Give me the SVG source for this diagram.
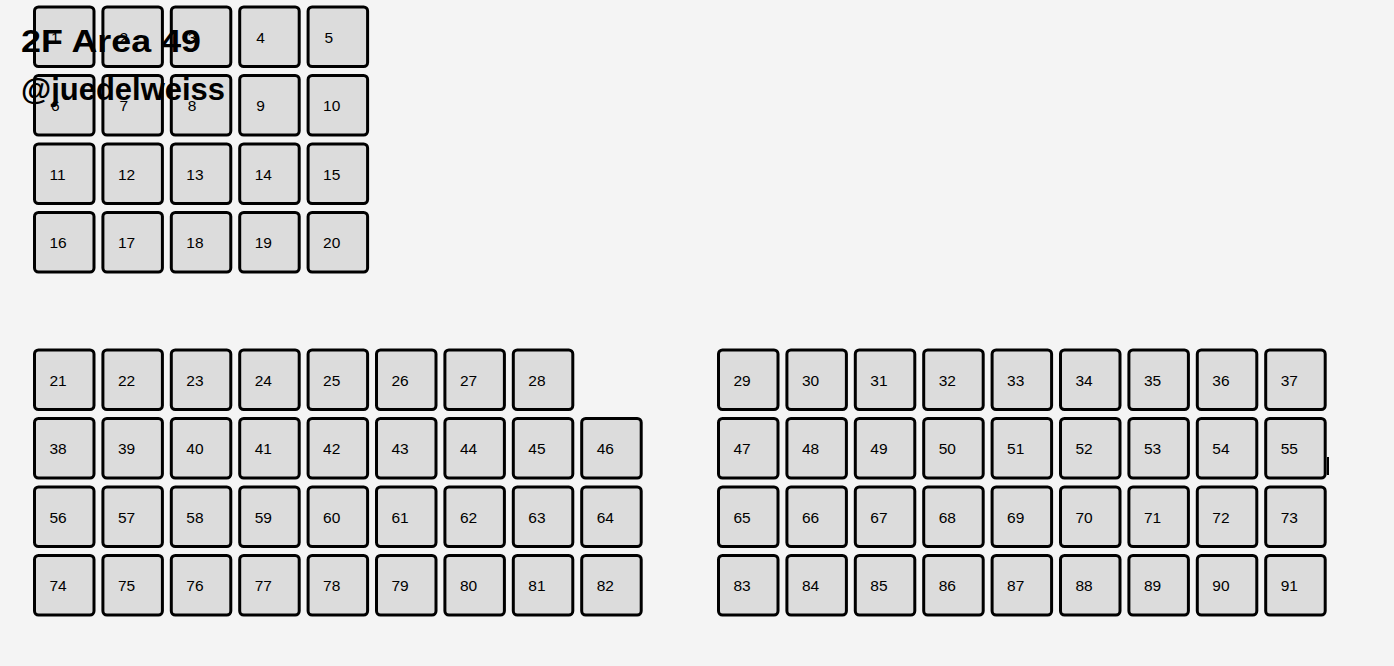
<svg xmlns="http://www.w3.org/2000/svg" width="1394" height="666" viewBox="0 0 1394 666">
<style>
.b{fill:#dcdcdc;stroke:#000;stroke-width:3}
.t{font-family:"Liberation Sans",Arial,sans-serif;font-size:15.5px;fill:#000}
.h{font-family:"Liberation Sans",Arial,sans-serif;font-weight:bold;font-size:32px;fill:#000}
</style>
<defs>
<rect id="box" class="b" x="1.5" y="1.5" width="59.5" height="59.5" rx="4"/>
</defs>
<rect width="1394" height="666" fill="#f4f4f4"/>
<g id="nodes">
<g id="n1" transform="translate(33,5.5)"><use href="#box"/><text class="t" x="18" y="37">1</text></g>
<g id="n2" transform="translate(101.4,5.5)"><use href="#box"/><text class="t" x="18" y="37">2</text></g>
<g id="n3" transform="translate(169.8,5.5)"><use href="#box"/><text class="t" x="18" y="37">3</text></g>
<g id="n4" transform="translate(238.2,5.5)"><use href="#box"/><text class="t" x="18" y="37">4</text></g>
<g id="n5" transform="translate(306.6,5.5)"><use href="#box"/><text class="t" x="18" y="37">5</text></g>
<g id="n6" transform="translate(33,74)"><use href="#box"/><text class="t" x="18" y="37">6</text></g>
<g id="n7" transform="translate(101.4,74)"><use href="#box"/><text class="t" x="18" y="37">7</text></g>
<g id="n8" transform="translate(169.8,74)"><use href="#box"/><text class="t" x="18" y="37">8</text></g>
<g id="n9" transform="translate(238.2,74)"><use href="#box"/><text class="t" x="18" y="37">9</text></g>
<g id="n10" transform="translate(306.6,74)"><use href="#box"/><text class="t" x="16.5" y="37">10</text></g>
<g id="n11" transform="translate(33,142.5)"><use href="#box"/><text class="t" x="16.5" y="37">11</text></g>
<g id="n12" transform="translate(101.4,142.5)"><use href="#box"/><text class="t" x="16.5" y="37">12</text></g>
<g id="n13" transform="translate(169.8,142.5)"><use href="#box"/><text class="t" x="16.5" y="37">13</text></g>
<g id="n14" transform="translate(238.2,142.5)"><use href="#box"/><text class="t" x="16.5" y="37">14</text></g>
<g id="n15" transform="translate(306.6,142.5)"><use href="#box"/><text class="t" x="16.5" y="37">15</text></g>
<g id="n16" transform="translate(33,211)"><use href="#box"/><text class="t" x="16.5" y="37">16</text></g>
<g id="n17" transform="translate(101.4,211)"><use href="#box"/><text class="t" x="16.5" y="37">17</text></g>
<g id="n18" transform="translate(169.8,211)"><use href="#box"/><text class="t" x="16.5" y="37">18</text></g>
<g id="n19" transform="translate(238.2,211)"><use href="#box"/><text class="t" x="16.5" y="37">19</text></g>
<g id="n20" transform="translate(306.6,211)"><use href="#box"/><text class="t" x="16.5" y="37">20</text></g>

<g id="n21" transform="translate(33,348.5)"><use href="#box"/><text class="t" x="16.5" y="37">21</text></g>
<g id="n22" transform="translate(101.4,348.5)"><use href="#box"/><text class="t" x="16.5" y="37">22</text></g>
<g id="n23" transform="translate(169.8,348.5)"><use href="#box"/><text class="t" x="16.5" y="37">23</text></g>
<g id="n24" transform="translate(238.2,348.5)"><use href="#box"/><text class="t" x="16.5" y="37">24</text></g>
<g id="n25" transform="translate(306.6,348.5)"><use href="#box"/><text class="t" x="16.5" y="37">25</text></g>
<g id="n26" transform="translate(375,348.5)"><use href="#box"/><text class="t" x="16.5" y="37">26</text></g>
<g id="n27" transform="translate(443.4,348.5)"><use href="#box"/><text class="t" x="16.5" y="37">27</text></g>
<g id="n28" transform="translate(511.8,348.5)"><use href="#box"/><text class="t" x="16.5" y="37">28</text></g>
<g id="n29" transform="translate(717,348.5)"><use href="#box"/><text class="t" x="16.5" y="37">29</text></g>
<g id="n30" transform="translate(785.4,348.5)"><use href="#box"/><text class="t" x="16.5" y="37">30</text></g>
<g id="n31" transform="translate(853.8,348.5)"><use href="#box"/><text class="t" x="16.5" y="37">31</text></g>
<g id="n32" transform="translate(922.2,348.5)"><use href="#box"/><text class="t" x="16.5" y="37">32</text></g>
<g id="n33" transform="translate(990.6,348.5)"><use href="#box"/><text class="t" x="16.5" y="37">33</text></g>
<g id="n34" transform="translate(1059,348.5)"><use href="#box"/><text class="t" x="16.5" y="37">34</text></g>
<g id="n35" transform="translate(1127.4,348.5)"><use href="#box"/><text class="t" x="16.5" y="37">35</text></g>
<g id="n36" transform="translate(1195.8,348.5)"><use href="#box"/><text class="t" x="16.5" y="37">36</text></g>
<g id="n37" transform="translate(1264.2,348.5)"><use href="#box"/><text class="t" x="16.5" y="37">37</text></g>

<g id="n38" transform="translate(33,417)"><use href="#box"/><text class="t" x="16.5" y="37">38</text></g>
<g id="n39" transform="translate(101.4,417)"><use href="#box"/><text class="t" x="16.5" y="37">39</text></g>
<g id="n40" transform="translate(169.8,417)"><use href="#box"/><text class="t" x="16.5" y="37">40</text></g>
<g id="n41" transform="translate(238.2,417)"><use href="#box"/><text class="t" x="16.5" y="37">41</text></g>
<g id="n42" transform="translate(306.6,417)"><use href="#box"/><text class="t" x="16.5" y="37">42</text></g>
<g id="n43" transform="translate(375,417)"><use href="#box"/><text class="t" x="16.5" y="37">43</text></g>
<g id="n44" transform="translate(443.4,417)"><use href="#box"/><text class="t" x="16.5" y="37">44</text></g>
<g id="n45" transform="translate(511.8,417)"><use href="#box"/><text class="t" x="16.5" y="37">45</text></g>
<g id="n46" transform="translate(580.2,417)"><use href="#box"/><text class="t" x="16.5" y="37">46</text></g>
<g id="n47" transform="translate(717,417)"><use href="#box"/><text class="t" x="16.5" y="37">47</text></g>
<g id="n48" transform="translate(785.4,417)"><use href="#box"/><text class="t" x="16.5" y="37">48</text></g>
<g id="n49" transform="translate(853.8,417)"><use href="#box"/><text class="t" x="16.5" y="37">49</text></g>
<g id="n50" transform="translate(922.2,417)"><use href="#box"/><text class="t" x="16.5" y="37">50</text></g>
<g id="n51" transform="translate(990.6,417)"><use href="#box"/><text class="t" x="16.5" y="37">51</text></g>
<g id="n52" transform="translate(1059,417)"><use href="#box"/><text class="t" x="16.5" y="37">52</text></g>
<g id="n53" transform="translate(1127.4,417)"><use href="#box"/><text class="t" x="16.5" y="37">53</text></g>
<g id="n54" transform="translate(1195.8,417)"><use href="#box"/><text class="t" x="16.5" y="37">54</text></g>
<g id="n55" transform="translate(1264.2,417)"><use href="#box"/><text class="t" x="16.5" y="37">55</text></g>

<g id="n56" transform="translate(33,485.5)"><use href="#box"/><text class="t" x="16.5" y="37">56</text></g>
<g id="n57" transform="translate(101.4,485.5)"><use href="#box"/><text class="t" x="16.5" y="37">57</text></g>
<g id="n58" transform="translate(169.8,485.5)"><use href="#box"/><text class="t" x="16.5" y="37">58</text></g>
<g id="n59" transform="translate(238.2,485.5)"><use href="#box"/><text class="t" x="16.5" y="37">59</text></g>
<g id="n60" transform="translate(306.6,485.5)"><use href="#box"/><text class="t" x="16.5" y="37">60</text></g>
<g id="n61" transform="translate(375,485.5)"><use href="#box"/><text class="t" x="16.5" y="37">61</text></g>
<g id="n62" transform="translate(443.4,485.5)"><use href="#box"/><text class="t" x="16.5" y="37">62</text></g>
<g id="n63" transform="translate(511.8,485.5)"><use href="#box"/><text class="t" x="16.5" y="37">63</text></g>
<g id="n64" transform="translate(580.2,485.5)"><use href="#box"/><text class="t" x="16.5" y="37">64</text></g>
<g id="n65" transform="translate(717,485.5)"><use href="#box"/><text class="t" x="16.5" y="37">65</text></g>
<g id="n66" transform="translate(785.4,485.5)"><use href="#box"/><text class="t" x="16.5" y="37">66</text></g>
<g id="n67" transform="translate(853.8,485.5)"><use href="#box"/><text class="t" x="16.5" y="37">67</text></g>
<g id="n68" transform="translate(922.2,485.5)"><use href="#box"/><text class="t" x="16.5" y="37">68</text></g>
<g id="n69" transform="translate(990.6,485.5)"><use href="#box"/><text class="t" x="16.5" y="37">69</text></g>
<g id="n70" transform="translate(1059,485.5)"><use href="#box"/><text class="t" x="16.5" y="37">70</text></g>
<g id="n71" transform="translate(1127.4,485.5)"><use href="#box"/><text class="t" x="16.5" y="37">71</text></g>
<g id="n72" transform="translate(1195.8,485.5)"><use href="#box"/><text class="t" x="16.5" y="37">72</text></g>
<g id="n73" transform="translate(1264.2,485.5)"><use href="#box"/><text class="t" x="16.5" y="37">73</text></g>

<g id="n74" transform="translate(33,554)"><use href="#box"/><text class="t" x="16.5" y="37">74</text></g>
<g id="n75" transform="translate(101.4,554)"><use href="#box"/><text class="t" x="16.5" y="37">75</text></g>
<g id="n76" transform="translate(169.8,554)"><use href="#box"/><text class="t" x="16.5" y="37">76</text></g>
<g id="n77" transform="translate(238.2,554)"><use href="#box"/><text class="t" x="16.5" y="37">77</text></g>
<g id="n78" transform="translate(306.6,554)"><use href="#box"/><text class="t" x="16.5" y="37">78</text></g>
<g id="n79" transform="translate(375,554)"><use href="#box"/><text class="t" x="16.5" y="37">79</text></g>
<g id="n80" transform="translate(443.4,554)"><use href="#box"/><text class="t" x="16.5" y="37">80</text></g>
<g id="n81" transform="translate(511.8,554)"><use href="#box"/><text class="t" x="16.5" y="37">81</text></g>
<g id="n82" transform="translate(580.2,554)"><use href="#box"/><text class="t" x="16.5" y="37">82</text></g>
<g id="n83" transform="translate(717,554)"><use href="#box"/><text class="t" x="16.5" y="37">83</text></g>
<g id="n84" transform="translate(785.4,554)"><use href="#box"/><text class="t" x="16.5" y="37">84</text></g>
<g id="n85" transform="translate(853.8,554)"><use href="#box"/><text class="t" x="16.5" y="37">85</text></g>
<g id="n86" transform="translate(922.2,554)"><use href="#box"/><text class="t" x="16.5" y="37">86</text></g>
<g id="n87" transform="translate(990.6,554)"><use href="#box"/><text class="t" x="16.5" y="37">87</text></g>
<g id="n88" transform="translate(1059,554)"><use href="#box"/><text class="t" x="16.5" y="37">88</text></g>
<g id="n89" transform="translate(1127.4,554)"><use href="#box"/><text class="t" x="16.5" y="37">89</text></g>
<g id="n90" transform="translate(1195.8,554)"><use href="#box"/><text class="t" x="16.5" y="37">90</text></g>
<g id="n91" transform="translate(1264.2,554)"><use href="#box"/><text class="t" x="16.5" y="37">91</text></g>
</g>
<g id="connectors"></g>
<rect x="1327" y="457" width="2" height="18" fill="#000"/>
<g id="title">
<text class="h" x="21" y="52" textLength="180" lengthAdjust="spacingAndGlyphs">2F Area 49</text>
<text class="h" x="21" y="100" font-size="31" textLength="204" lengthAdjust="spacingAndGlyphs">@juedelweiss</text>
</g>
</svg>
